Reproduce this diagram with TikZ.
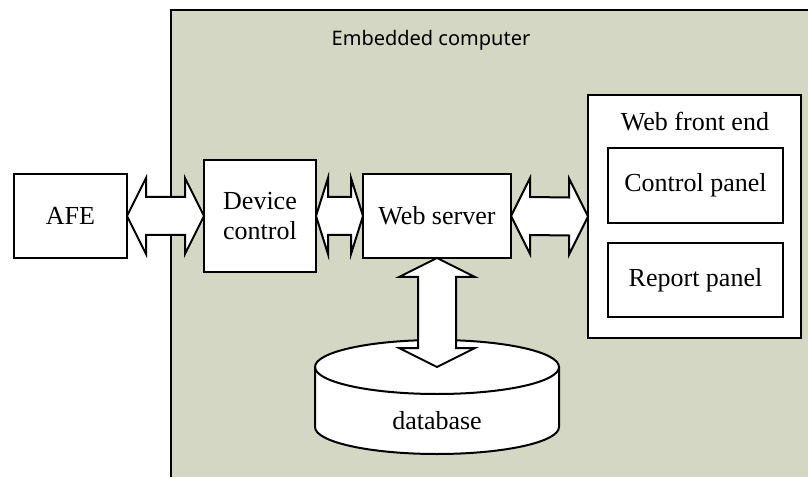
\documentclass[tikz,border=0pt]{standalone}
\usepackage{fontspec}
\setmainfont{Liberation Serif}
\newfontfamily\captionsans{Noto Sans}
\usetikzlibrary{calc}

\definecolor{ecBg}{RGB}{211,215,195}

\tikzset{
  unit/.style={draw=black, fill=white, line width=1pt, inner sep=0pt, outer sep=0pt,
    align=center, font=\fontsize{13}{15}\selectfont},
  fatarrow/.style={draw=black, fill=white, line width=1pt, line join=miter},
}

% horizontal double block arrow: from node, to node, head length
\newcommand{\hblock}[3]{%
  \draw[fatarrow] (#1.east) -- ($(#1.east)+(#3,38)$) -- ($(#1.east)+(#3,19)$)
    -- ($(#2.west)+(-#3,19)$) -- ($(#2.west)+(-#3,38)$) -- (#2.west)
    -- ($(#2.west)+(-#3,-38)$) -- ($(#2.west)+(-#3,-19)$)
    -- ($(#1.east)+(#3,-19)$) -- ($(#1.east)+(#3,-38)$) -- cycle;}

\begin{document}
\begin{tikzpicture}[x=0.5pt, y=0.5pt]
\useasboundingbox (0,0) rectangle (808,477);
%% ── Embedded computer zone ───────────────────────────────────────────────
\fill[ecBg] (171,467) rectangle (808,0);
\draw[line width=1.2pt] (171,0) |- (808,467);
\node[font=\captionsans\fontsize{10}{12}\selectfont] (ectitle) at (431,437) {Embedded computer};
%% ── Blocks ───────────────────────────────────────────────────────────────
\node[unit, minimum width=56.5pt, minimum height=42pt] (afe) at (70.5,261) {AFE};
\node[unit, minimum width=56pt, minimum height=56pt] (devctl) at (260,261) {Device\\control};
\node[unit, minimum width=74pt, minimum height=42pt] (websrv) at (437,261) {Web server};
%% ── Web front end ────────────────────────────────────────────────────────
\node[unit, minimum width=106.5pt, minimum height=121.5pt] (front) at (694.5,260.5) {};
\node[font=\fontsize{13}{15}\selectfont] (frontlbl) at (695,355) {Web front end};
\node[unit, minimum width=87.5pt, minimum height=37.5pt] (ctlpanel) at (695.5,291.5) {Control panel};
\node[unit, minimum width=87.5pt, minimum height=37pt] (reppanel) at (695.5,197) {Report panel};
%% ── Database ─────────────────────────────────────────────────────────────
\draw[fill=white, line width=1pt] (315,110) -- (315,50)
    arc[start angle=180, end angle=360, x radius=122, y radius=27] -- (559,110)
    arc[start angle=0, end angle=180, x radius=122, y radius=27] -- cycle;
\draw[line width=1pt] (315,110) arc[start angle=180, end angle=360, x radius=122, y radius=27];
\coordinate (dbtop) at (437,110);
\node[font=\fontsize{13}{15}\selectfont] (db) at (437,56) {database};
%% ── Block arrows ─────────────────────────────────────────────────────────
\hblock{afe}{devctl}{19}
\hblock{devctl}{websrv}{12}
\hblock{websrv}{front}{19}
\draw[fatarrow] (websrv.south) -- ($(websrv.south)+(38,-19)$) -- ($(websrv.south)+(19,-19)$)
    -- ($(dbtop)+(19,19)$) -- ($(dbtop)+(38,19)$) -- (dbtop)
    -- ($(dbtop)+(-38,19)$) -- ($(dbtop)+(-19,19)$)
    -- ($(websrv.south)+(-19,-19)$) -- ($(websrv.south)+(-38,-19)$) -- cycle;
\end{tikzpicture}
\end{document}
